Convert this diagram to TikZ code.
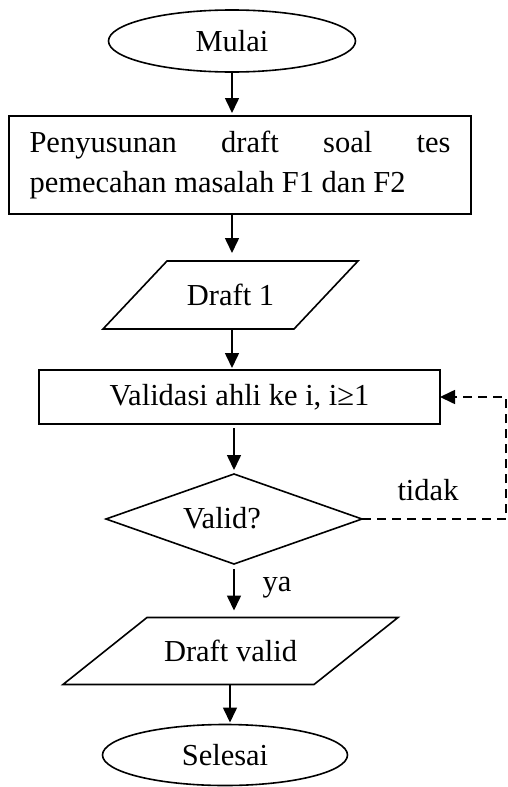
\documentclass[tikz,border=0pt]{standalone}
\usepackage{fontspec}
\setmainfont{Liberation Serif}
\usetikzlibrary{shapes.geometric,arrows.meta,calc}
\begin{document}
\begin{tikzpicture}[x=1pt,y=-1pt, line width=1.6pt,
 every node/.style={font=\fontsize{30.5}{40}\selectfont, inner sep=0pt, outer sep=0pt},
 term/.style={ellipse, draw, minimum width=247pt, minimum height=62pt},
 proc/.style={rectangle, draw},
 io/.style={rectangle, draw=none},
 dec/.style={diamond, draw, minimum width=256pt, minimum height=90pt},
 arr/.style={-{Triangle[length=15pt,width=14pt]}},
 loopline/.style={dash pattern=on 9pt off 6pt}]
\useasboundingbox (0,0) rectangle (507,787);
\node[term] (m) at (232,41) {Mulai};
\node[proc, text width=421pt, align=justify, inner xsep=20.5pt, minimum height=98pt] (b1) at (240,165)
  {Penyusunan draft soal tes\linebreak pemecahan masalah F1 dan F2};
\node[io, minimum width=255pt, minimum height=68pt] (d1) at (230.5,295) {Draft 1};
\draw (d1.south west) -- ($(d1.north west)+(64,0)$) -- (d1.north east) -- ($(d1.south east)+(-64,0)$) -- cycle;
\node[proc, minimum width=401pt, minimum height=54pt] (b2) at (239.5,397) {Validasi ahli ke i, i≥1};
\node[dec] (dm) at (234,519) {};
\node (vt) at (222,518) {Valid?};
\node[io, minimum width=335pt, minimum height=67pt] (dv) at (230.5,651) {Draft valid};
\draw (dv.south west) -- ($(dv.north west)+(84,0)$) -- (dv.north east) -- ($(dv.south east)+(-84,0)$) -- cycle;
\node[term, minimum width=245pt, minimum height=61pt] (se) at (225,755) {Selesai};
\coordinate (lp) at (506,519);
\draw[arr] (m.south) -- ([yshift=3pt]m.south |- b1.north);
\draw[arr] (m.south |- b1.south) -- ([yshift=8pt]m.south |- d1.north);
\draw[arr] (m.south |- d1.south) -- ([yshift=2pt]m.south |- b2.north);
\draw[arr] ([yshift=-4pt]dm.north |- b2.south) -- ([yshift=4pt]dm.north);
\draw[arr] ([yshift=-5pt]dm.south) -- ([yshift=7pt]dm.south |- dv.north);
\draw[arr] ([xshift=-0.5pt]dv.south) -- ([xshift=-0.5pt,yshift=2pt]dv.south |- se.north);
\draw[arr, loopline] (dm.east) -- (lp) |- (b2.east);
\node[anchor=base] (tl) at (428,500) {tidak};
\node[anchor=base] (yl) at (277,591) {ya};
\end{tikzpicture}
\end{document}
